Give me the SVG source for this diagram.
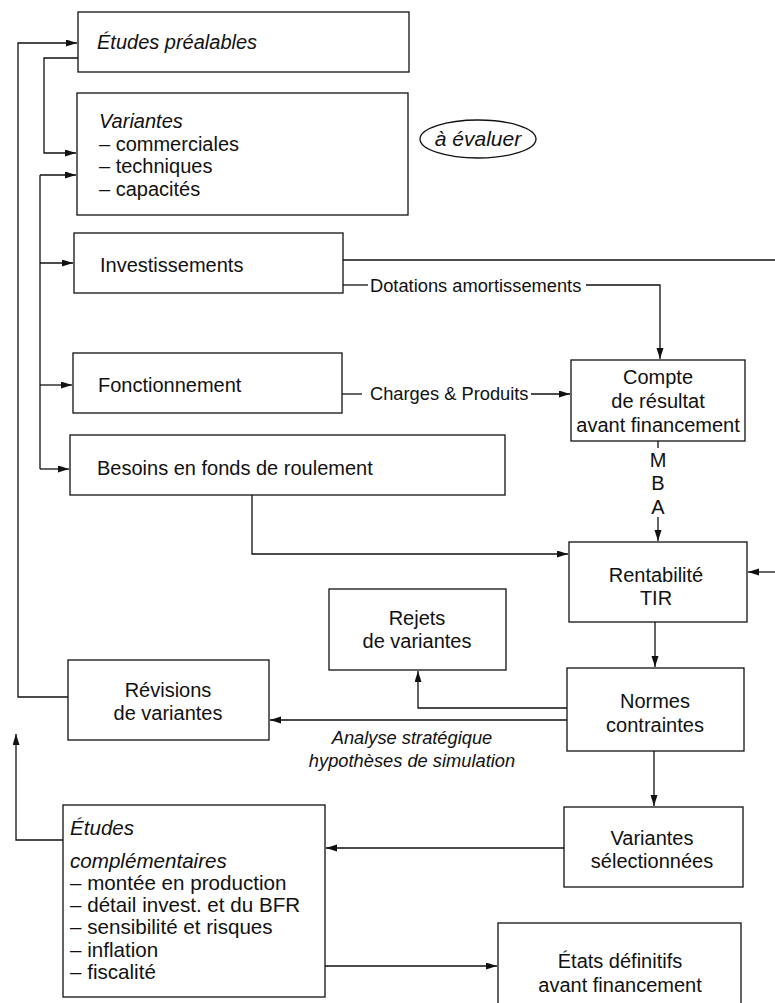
<svg xmlns="http://www.w3.org/2000/svg" width="775" height="1003" viewBox="0 0 775 1003">
  <style>
    .box { fill: #fff; stroke: #111; stroke-width: 1.3; }
    .ln { fill: none; stroke: #111; stroke-width: 1.3; }
    .arr { marker-end: url(#ah); }
    text { font-family: "Liberation Sans", Arial, sans-serif; font-size: 20px; fill: #111; }
    .lbl { font-size: 18.3px; }
    .big { font-size: 20.6px; }
    .it { font-style: italic; }
    .c { text-anchor: middle; }
  </style>
  <defs>
    <marker id="ah" markerUnits="userSpaceOnUse" markerWidth="12" markerHeight="8" refX="11" refY="3.5" orient="auto">
      <path d="M0,0 L11,3.5 L0,7 z" fill="#111"/>
    </marker>
  </defs>
  <rect width="775" height="1003" fill="#fff"/>

  <!-- connectors -->
  <g id="connectors">
    <!-- revision loop back to the preliminary studies -->
    <path class="ln arr" d="M68,697 H18 V43 H77"/>
    <path class="ln arr" d="M78,58 H44 V153 H76"/>
    <!-- distribution bus on the left -->
    <path class="ln" d="M40,175 V469"/>
    <path class="ln arr" d="M40,175 H76"/>
    <path class="ln arr" d="M40,263 H73"/>
    <path class="ln arr" d="M40,385 H72"/>
    <path class="ln arr" d="M40,469 H69"/>
    <!-- investments to the right margin -->
    <path class="ln" d="M343,260 H775"/>
    <!-- depreciation -->
    <path class="ln" d="M343,285 H368"/>
    <path class="ln arr" d="M586,285 H660 V359"/>
    <!-- charges & products -->
    <path class="ln" d="M342,394 H362"/>
    <path class="ln arr" d="M531,394 H570"/>
    <!-- MBA -->
    <path class="ln" d="M658,441 V448"/>
    <path class="ln arr" d="M658,517 V541"/>
    <!-- working capital to profitability -->
    <path class="ln arr" d="M252,495 V554 H568"/>
    <path class="ln arr" d="M775,572 H748"/>
    <!-- profitability to norms -->
    <path class="ln arr" d="M655,622 V667"/>
    <!-- norms to rejects -->
    <path class="ln arr" d="M567,708 H418 V671"/>
    <!-- norms to revisions -->
    <path class="ln arr" d="M567,720 H270"/>
    <!-- norms to selected variants -->
    <path class="ln arr" d="M654,751 V806"/>
    <!-- selected variants to complementary studies -->
    <path class="ln arr" d="M564,848 H326"/>
    <!-- complementary studies loop -->
    <path class="ln arr" d="M63,840 H16 V734"/>
    <!-- complementary studies to final statements -->
    <path class="ln arr" d="M325,966 H497"/>
  </g>

  <g id="etudes-prealables">
    <rect class="box" x="78" y="12" width="331" height="60"/>
    <text class="it" x="97" y="49">Études préalables</text>
  </g>

  <g id="variantes">
    <rect class="box" x="77" y="93" width="331" height="122"/>
    <text class="it" x="99" y="128">Variantes</text>
    <text x="99" y="151">– commerciales</text>
    <text x="99" y="173">– techniques</text>
    <text x="99" y="196">– capacités</text>
  </g>

  <g id="a-evaluer">
    <ellipse cx="478" cy="139" rx="58" ry="19" fill="#fff" stroke="#111" stroke-width="1.3"/>
    <text class="it c" x="478" y="146" style="font-size:21px">à évaluer</text>
  </g>

  <g id="investissements">
    <rect class="box" x="74" y="233" width="269" height="60"/>
    <text x="100" y="272">Investissements</text>
  </g>

  <g id="dotations-label">
    <text class="lbl" x="370" y="292">Dotations amortissements</text>
  </g>

  <g id="fonctionnement">
    <rect class="box" x="73" y="353" width="269" height="60"/>
    <text x="98" y="392">Fonctionnement</text>
  </g>

  <g id="charges-label">
    <text class="lbl" x="370" y="400">Charges &amp; Produits</text>
  </g>

  <g id="compte-resultat">
    <rect class="box" x="571" y="360" width="174" height="81"/>
    <text class="c" x="658" y="384">Compte</text>
    <text class="c" x="658" y="408">de résultat</text>
    <text class="c" x="658" y="432">avant financement</text>
  </g>

  <g id="mba-label">
    <text class="c" x="658" y="467">M</text>
    <text class="c" x="658" y="490">B</text>
    <text class="c" x="658" y="514">A</text>
  </g>

  <g id="besoins">
    <rect class="box" x="70" y="435" width="435" height="60"/>
    <text x="97" y="475">Besoins en fonds de roulement</text>
  </g>

  <g id="rentabilite">
    <rect class="box" x="569" y="542" width="178" height="80"/>
    <text class="c" x="656" y="582">Rentabilité</text>
    <text class="c" x="656" y="605">TIR</text>
  </g>

  <g id="rejets">
    <rect class="box" x="329" y="589" width="177" height="81"/>
    <text class="c" x="417" y="625">Rejets</text>
    <text class="c" x="417" y="648">de variantes</text>
  </g>

  <g id="normes">
    <rect class="box" x="567" y="668" width="177" height="83"/>
    <text class="c" x="655" y="708">Normes</text>
    <text class="c" x="655" y="732">contraintes</text>
  </g>

  <g id="revisions">
    <rect class="box" x="68" y="660" width="201" height="80"/>
    <text class="c" x="168" y="697">Révisions</text>
    <text class="c" x="168" y="720">de variantes</text>
  </g>

  <g id="analyse-label">
    <text class="lbl it c" x="412" y="744">Analyse stratégique</text>
    <text class="lbl it c" x="412" y="767">hypothèses de simulation</text>
  </g>

  <g id="etudes-complementaires">
    <rect class="box" x="63" y="805" width="262" height="192"/>
    <text class="big it" x="70" y="835">Études</text>
    <text class="big it" x="70" y="868">complémentaires</text>
    <text class="big" x="70" y="890">– montée en production</text>
    <text class="big" x="70" y="912">– détail invest. et du BFR</text>
    <text class="big" x="70" y="934">– sensibilité et risques</text>
    <text class="big" x="70" y="957">– inflation</text>
    <text class="big" x="70" y="979">– fiscalité</text>
  </g>

  <g id="variantes-selectionnees">
    <rect class="box" x="564" y="807" width="179" height="80"/>
    <text class="c" x="652" y="845">Variantes</text>
    <text class="c" x="652" y="868">sélectionnées</text>
  </g>

  <g id="etats-definitifs">
    <rect class="box" x="498" y="923" width="243" height="100"/>
    <text class="c" x="620" y="968">États définitifs</text>
    <text class="c" x="620" y="992">avant financement</text>
  </g>
</svg>
